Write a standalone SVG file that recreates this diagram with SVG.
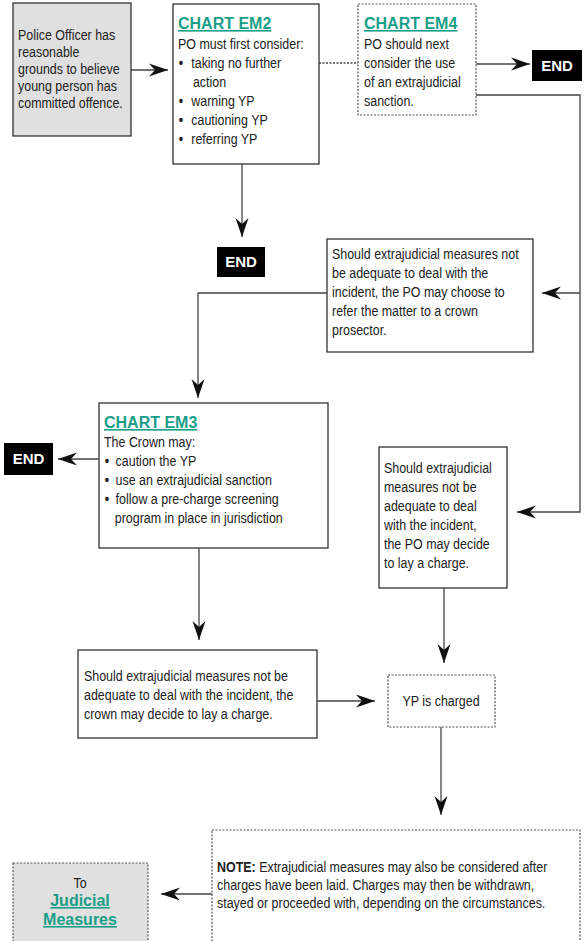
<svg xmlns="http://www.w3.org/2000/svg" width="585" height="941" viewBox="0 0 585 941">
<style>
.t{font-family:"Liberation Sans",Arial,sans-serif;font-size:15px;fill:#222}
.bu{font-weight:bold}
.h{font-family:"Liberation Sans",Arial,sans-serif;font-size:16px;font-weight:bold;fill:#1a9e88;text-decoration:underline}
.e{font-family:"Liberation Sans",Arial,sans-serif;font-size:15px;font-weight:bold;fill:#fff}
.b{fill:#fff;stroke:#333;stroke-width:1.3}
.g{fill:#e0e0e0;stroke:#333;stroke-width:1.3}
.d{fill:#fff;stroke:#555;stroke-width:1.2;stroke-dasharray:2 1.5}
.dg{fill:#e0e0e0;stroke:#555;stroke-width:1.2;stroke-dasharray:2 1.5}
.c{fill:none;stroke:#444;stroke-width:1.3}
.a{marker-end:url(#ah)}
</style>
<defs>
<marker id="ah" markerUnits="userSpaceOnUse" markerWidth="22" markerHeight="16" viewBox="-20 -8 22 16" refX="0" refY="0" orient="auto">
<path d="M0,0 L-19,-6.5 L-13,0 L-19,6.5 Z" fill="#111"/>
</marker>
</defs>
<g id="connectors">
<path class="c a" d="M131,70 H168"/>
<path class="c a" d="M242,164 V237"/>
<path class="c" d="M319,63 H358" stroke-dasharray="2 1.5"/>
<path class="c a" d="M476,64 H530"/>
<path class="c a" d="M476,95 H580 V512 H517"/>
<path class="c a" d="M580,293 H542"/>
<path class="c a" d="M327,293 H198 V398"/>
<path class="c a" d="M99,459 H58"/>
<path class="c a" d="M199,548 V640"/>
<path class="c a" d="M317,701 H375"/>
<path class="c a" d="M444,588 V663"/>
<path class="c a" d="M441,727 V815"/>
<path class="c a" d="M212,894 H161"/>
</g>
<g id="start">
<rect class="g" x="13" y="3" width="118" height="133"/>
<text class="t" transform="translate(18,0) scale(0.83,1)"><tspan x="0" y="40">Police Officer has</tspan><tspan x="0" y="57">reasonable</tspan><tspan x="0" y="74">grounds to believe</tspan><tspan x="0" y="91">young person has</tspan><tspan x="0" y="108">committed offence.</tspan></text>
</g>
<g id="em2">
<rect class="b" x="173" y="4" width="146" height="160"/>
<text class="h" x="178" y="29">CHART EM2</text>
<text class="t" transform="translate(178,0) scale(0.83,1)"><tspan x="0" y="49">PO must first consider:</tspan><tspan class="bu" x="1" y="68">•</tspan><tspan x="16" y="68">taking no further</tspan><tspan x="18" y="87">action</tspan><tspan class="bu" x="1" y="106">•</tspan><tspan x="16" y="106">warning YP</tspan><tspan class="bu" x="1" y="125">•</tspan><tspan x="16" y="125">cautioning YP</tspan><tspan class="bu" x="1" y="144">•</tspan><tspan x="16" y="144">referring YP</tspan></text>
</g>
<g id="em4">
<rect class="d" x="358" y="4" width="118" height="111"/>
<text class="h" x="364" y="29">CHART EM4</text>
<text class="t" transform="translate(364,0) scale(0.83,1)"><tspan x="0" y="49">PO should next</tspan><tspan x="0" y="68">consider the use</tspan><tspan x="0" y="87">of an extrajudicial</tspan><tspan x="0" y="106">sanction.</tspan></text>
</g>
<g id="end1">
<rect x="532" y="50" width="50" height="31" fill="#000"/>
<text class="e" x="557" y="71" text-anchor="middle">END</text>
</g>
<g id="end2">
<rect x="217" y="247" width="48" height="30" fill="#000"/>
<text class="e" x="241" y="267" text-anchor="middle">END</text>
</g>
<g id="refer">
<rect class="b" x="327" y="239" width="206" height="113"/>
<text class="t" transform="translate(332,0) scale(0.83,1)"><tspan x="0" y="259">Should extrajudicial measures not</tspan><tspan x="0" y="278">be adequate to deal with the</tspan><tspan x="0" y="297">incident, the PO may choose to</tspan><tspan x="0" y="316">refer the matter to a crown</tspan><tspan x="0" y="335">prosector.</tspan></text>
</g>
<g id="em3">
<rect class="b" x="99" y="403" width="229" height="145"/>
<text class="h" x="104" y="428">CHART EM3</text>
<text class="t" transform="translate(104,0) scale(0.83,1)"><tspan x="0" y="447">The Crown may:</tspan><tspan class="bu" x="1" y="466">•</tspan><tspan x="14" y="466">caution the YP</tspan><tspan class="bu" x="1" y="485">•</tspan><tspan x="14" y="485">use an extrajudicial sanction</tspan><tspan class="bu" x="1" y="504">•</tspan><tspan x="14" y="504">follow a pre-charge screening</tspan><tspan x="13" y="523">program in place in jurisdiction</tspan></text>
</g>
<g id="end3">
<rect x="4" y="443" width="49" height="32" fill="#000"/>
<text class="e" x="28.5" y="464" text-anchor="middle">END</text>
</g>
<g id="po-charge">
<rect class="b" x="379" y="447" width="128" height="141"/>
<text class="t" transform="translate(384,0) scale(0.83,1)"><tspan x="0" y="473">Should extrajudicial</tspan><tspan x="0" y="492">measures not be</tspan><tspan x="0" y="511">adequate to deal</tspan><tspan x="0" y="530">with the incident,</tspan><tspan x="0" y="549">the PO may decide</tspan><tspan x="0" y="568">to lay a charge.</tspan></text>
</g>
<g id="crown-charge">
<rect class="b" x="78" y="650" width="239" height="88"/>
<text class="t" transform="translate(84,0) scale(0.83,1)"><tspan x="0" y="681">Should extrajudicial measures not be</tspan><tspan x="0" y="700">adequate to deal with the incident, the</tspan><tspan x="0" y="719">crown may decide to lay a charge.</tspan></text>
</g>
<g id="charged">
<rect class="d" x="388" y="675" width="107" height="52"/>
<text class="t" transform="translate(441,0) scale(0.83,1)" x="0" y="706" text-anchor="middle">YP is charged</text>
</g>
<g id="note">
<rect class="d" x="212" y="830" width="368" height="120"/>
<text class="t" transform="translate(217,0) scale(0.83,1)"><tspan x="0" y="872"><tspan font-weight="bold">NOTE:</tspan> Extrajudicial measures may also be considered after</tspan><tspan x="0" y="890">charges have been laid. Charges may then be withdrawn,</tspan><tspan x="0" y="908">stayed or proceeded with, depending on the circumstances.</tspan></text>
</g>
<g id="judicial">
<rect class="dg" x="13" y="863" width="135" height="90"/>
<text class="t" transform="translate(80,0) scale(0.83,1)" x="0" y="888" text-anchor="middle">To</text>
<text class="h" x="80" y="906" text-anchor="middle">Judicial</text>
<text class="h" x="80" y="925" text-anchor="middle">Measures</text>
</g>
</svg>
